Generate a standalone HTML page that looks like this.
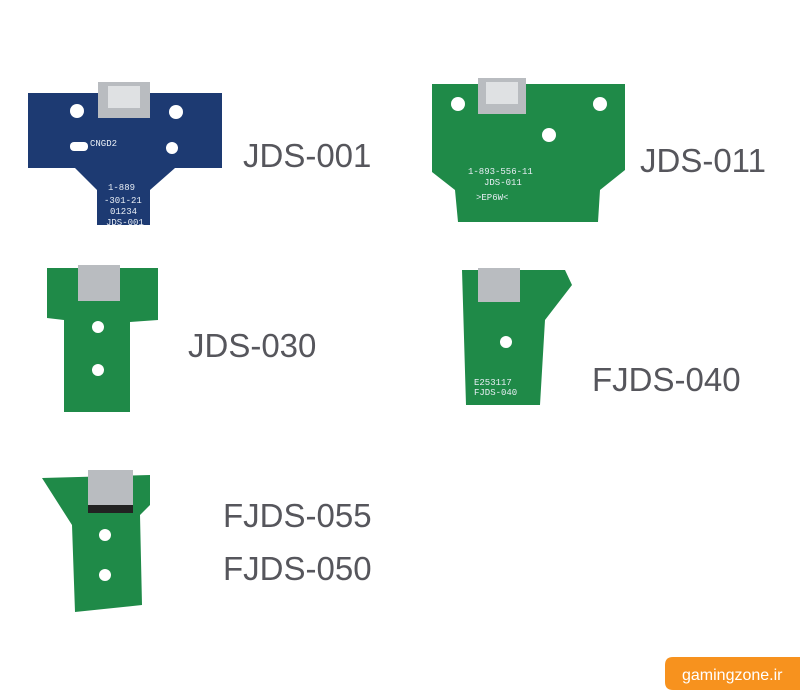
<!DOCTYPE html>
<html><head><style>
body{margin:0;background:#fff;}
svg{display:block}
.t{font-family:"Liberation Sans",sans-serif;font-size:33px;fill:#56565c;}
.s{font-family:"Liberation Mono",monospace;font-size:9px;fill:#e8eef5;}
</style></head><body>
<svg width="800" height="690" viewBox="0 0 800 690">
<rect width="800" height="690" fill="#fff"/>
<!-- JDS-001 blue -->
<path d="M28 93 L222 93 L222 168 L175 168 L150 190 L150 225 L97 225 L97 190 L75 168 L28 168 Z" fill="#1d3a72"/>
<rect x="98" y="82" width="52" height="36" fill="#b9bcc0"/>
<rect x="108" y="86" width="32" height="22" fill="#dfe1e3"/>
<circle cx="77" cy="111" r="7" fill="#fff"/><circle cx="176" cy="112" r="7" fill="#fff"/><circle cx="172" cy="148" r="6" fill="#fff"/>
<rect x="70" y="142" width="18" height="9" rx="4" fill="#fff"/>
<text class="s" x="90" y="146">CNGD2</text>
<text class="s" x="108" y="190">1-889</text><text class="s" x="104" y="203">-301-21</text><text class="s" x="110" y="214">01234</text><text class="s" x="106" y="225">JDS-001</text>
<text class="t" x="243" y="167">JDS-001</text>
<!-- JDS-011 green -->
<path d="M432 84 L625 84 L625 170 L600 190 L598 222 L458 222 L455 190 L432 172 Z" fill="#1f8a48"/>
<rect x="478" y="78" width="48" height="36" fill="#b9bcc0"/>
<rect x="486" y="82" width="32" height="22" fill="#dfe1e3"/>
<circle cx="458" cy="104" r="7" fill="#fff"/><circle cx="600" cy="104" r="7" fill="#fff"/><circle cx="549" cy="135" r="7" fill="#fff"/>
<text class="s" x="468" y="174">1-893-556-11</text><text class="s" x="484" y="185">JDS-011</text><text class="s" x="476" y="200">&gt;EP6W&lt;</text>
<text class="t" x="640" y="172">JDS-011</text>
<!-- JDS-030 -->
<path d="M47 268 L158 268 L158 320 L130 322 L130 412 L64 412 L64 320 L47 318 Z" fill="#1f8a48"/>
<rect x="78" y="265" width="42" height="36" fill="#b9bcc0"/>
<circle cx="98" cy="327" r="6" fill="#fff"/><circle cx="98" cy="370" r="6" fill="#fff"/>
<text class="t" x="188" y="357">JDS-030</text>
<!-- FJDS-040 -->
<path d="M462 270 L565 270 L572 285 L545 320 L540 405 L466 405 Z" fill="#1f8a48"/>
<rect x="478" y="268" width="42" height="34" fill="#b9bcc0"/>
<circle cx="506" cy="342" r="6" fill="#fff"/>
<text class="s" x="474" y="385">E253117</text><text class="s" x="474" y="395">FJDS-040</text>
<text class="t" x="592" y="391">FJDS-040</text>
<!-- FJDS-055 -->
<path d="M42 478 L150 475 L150 505 L140 515 L142 605 L75 612 L72 525 Z" fill="#1f8a48"/>
<rect x="88" y="470" width="45" height="38" fill="#b9bcc0"/>
<rect x="88" y="505" width="45" height="8" fill="#222"/>
<circle cx="105" cy="535" r="6" fill="#fff"/><circle cx="105" cy="575" r="6" fill="#fff"/>
<text class="t" x="223" y="527">FJDS-055</text>
<text class="t" x="223" y="580">FJDS-050</text>
<!-- watermark -->
<path d="M673 657 L800 657 L800 690 L673 690 Q665 690 665 682 L665 665 Q665 657 673 657 Z" fill="#f7921e"/>
<text x="682" y="680" style="font-family:'Liberation Sans',sans-serif;font-size:16px;fill:#fff">gamingzone.ir</text>
</svg>
</body></html>
